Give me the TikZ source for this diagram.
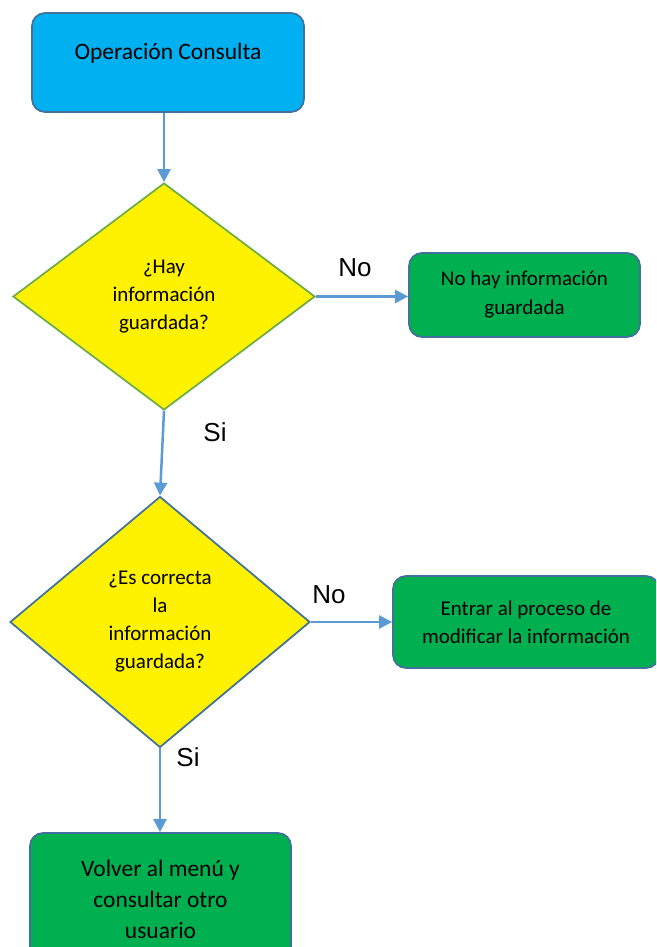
\documentclass[tikz,border=0pt]{standalone}
\usepackage{fontspec}
\setmainfont{Carlito}
\newfontfamily\labelfont{Liberation Sans}
\usetikzlibrary{shapes.geometric, arrows.meta}
\definecolor{cyanbox}{HTML}{00B0F0}
\definecolor{greenbox}{HTML}{00B050}
\definecolor{edgeblue}{HTML}{41719C}
\definecolor{edgegreen}{HTML}{70AD47}
\definecolor{arrowblue}{HTML}{5B9BD5}

\begin{document}
\begin{tikzpicture}[x=1pt, y=-1pt]
\tikzset{
  block/.style={draw=edgeblue, line width=1.75pt, rounded corners=13pt,
    align=center, inner sep=0pt},
  decision/.style={diamond, fill=yellow, line width=1.75pt, align=center,
    inner sep=0pt, font=\fontsize{21}{28}\selectfont},
  flow/.style={draw=arrowblue, line width=2.5pt,
    -{Triangle[length=13pt,width=13pt]}},
  answer/.style={font=\labelfont\fontsize{26}{28}\selectfont},
}
\useasboundingbox (0,0) rectangle (656,947);
\clip (0,0) rectangle (656,947);

\node[block, fill=cyanbox, minimum width=272pt, minimum height=99pt,
  font=\fontsize{23.5}{28}\selectfont, text height=17pt, text depth=22pt]
  (start) at (168,62.5) {Operación Consulta};
\node[decision, draw=edgegreen, minimum width=302pt, minimum height=227pt]
  (query) at (164,296.5) {¿Hay\\información\\guardada?};
\node[block, fill=greenbox, minimum width=231pt, minimum height=84pt,
  font=\fontsize{21}{29}\selectfont]
  (empty) at (524.5,295) {No hay información\\guardada};
\node[decision, draw=edgeblue, minimum width=300pt, minimum height=251pt]
  (check) at (160,622) {¿Es correcta\\la\\información\\guardada?};
\node[block, fill=greenbox, minimum width=266pt, minimum height=92pt,
  font=\fontsize{21}{28}\selectfont]
  (modify) at (526,622) {Entrar al proceso de\\modificar la información};
\node[block, fill=greenbox, minimum width=261pt, minimum height=132pt,
  font=\fontsize{23.5}{31}\selectfont]
  (back) at (160.5,899) {Volver al menú y\\consultar otro\\usuario};

% answers
\node[answer] (no1) at (355,268) {No};
\node[answer] (si1) at (215,432) {Si};
\node[answer] (no2) at (329,595) {No};
\node[answer] (si2) at (188,757) {Si};

\draw[flow] (start.south -| query.north) -- (query.north);
\draw[flow] (query.east) -- (query.east -| empty.west);
\draw[flow] (query.south) -- (check.north);
\draw[flow] (check.east) -- (check.east -| modify.west);
\draw[flow] (check.south) -- (check.south |- back.north);
\end{tikzpicture}
\end{document}
